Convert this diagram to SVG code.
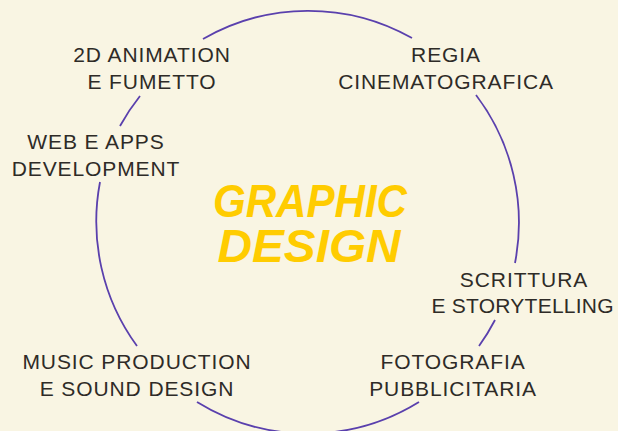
<svg xmlns="http://www.w3.org/2000/svg" width="618" height="431" viewBox="0 0 618 431">
<style>
.bg{fill:#f9f5e3}
.arc{fill:none;stroke:#5a40ad;stroke-width:1.8}
.lbl{font-family:"Liberation Sans",Arial,sans-serif;font-size:21px;fill:#2e2b27;text-anchor:middle;letter-spacing:0.9px}
.title{font-family:"Liberation Sans",Arial,sans-serif;font-weight:bold;font-style:italic;font-size:47px;fill:#ffcc00;text-anchor:middle}
</style>
<rect class="bg" x="0" y="0" width="618" height="431"/>
<g id="connectors">
<path class="arc" d="M203,39 A211,211 0 0 1 412,38"/>
<path class="arc" d="M476,95 A211,211 0 0 1 515,263"/>
<path class="arc" d="M495,320 A211,211 0 0 1 479,346"/>
<path class="arc" d="M419,402 A211,211 0 0 1 197,402"/>
<path class="arc" d="M137,346 A211,211 0 0 1 100,182"/>
<path class="arc" d="M120,126 A211,211 0 0 1 140,96"/>
</g>
<g id="center">
<text class="title" x="310" y="217" textLength="194" lengthAdjust="spacingAndGlyphs">GRAPHIC</text>
<text class="title" x="309" y="262" textLength="183" lengthAdjust="spacingAndGlyphs">DESIGN</text>
</g>
<g id="animation">
<text class="lbl" x="152" y="62">2D ANIMATION</text>
<text class="lbl" x="152" y="89">E FUMETTO</text>
</g>
<g id="regia">
<text class="lbl" x="446" y="62">REGIA</text>
<text class="lbl" x="446" y="89">CINEMATOGRAFICA</text>
</g>
<g id="web">
<text class="lbl" x="96" y="149">WEB E APPS</text>
<text class="lbl" x="96" y="176">DEVELOPMENT</text>
</g>
<g id="scrittura">
<text class="lbl" x="524" y="287">SCRITTURA</text>
<text class="lbl" x="523" y="313" textLength="183">E STORYTELLING</text>
</g>
<g id="fotografia">
<text class="lbl" x="453" y="369">FOTOGRAFIA</text>
<text class="lbl" x="453" y="396">PUBBLICITARIA</text>
</g>
<g id="music">
<text class="lbl" x="137" y="369">MUSIC PRODUCTION</text>
<text class="lbl" x="137" y="396">E SOUND DESIGN</text>
</g>
</svg>
